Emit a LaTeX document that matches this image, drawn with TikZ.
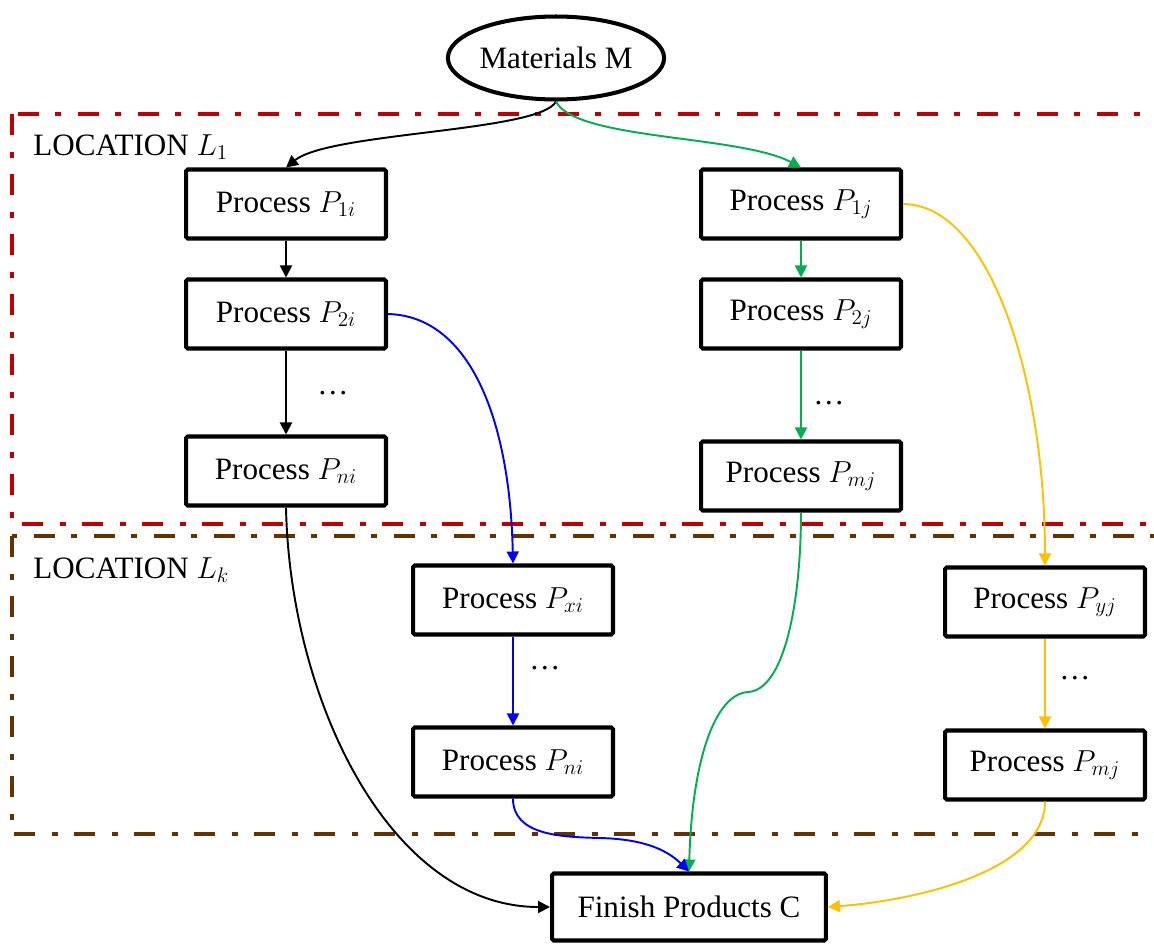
\documentclass[tikz,border=0pt]{standalone}
\usepackage{fontspec}
\setmainfont{Liberation Serif}
\usetikzlibrary{arrows.meta,shapes.geometric}
\definecolor{frred}{HTML}{C00000}
\definecolor{frbrown}{HTML}{663300}
\definecolor{cgreen}{HTML}{00B050}
\definecolor{cblue}{HTML}{0000FF}
\definecolor{corange}{HTML}{FFC000}
\tikzset{
  proc/.style={draw, line width=2.3pt, rounded corners=1pt, minimum width=4cm, minimum height=1.38cm, inner sep=0pt},
  conn/.style={line width=1.1pt, -{Triangle[length=0.24cm,width=0.24cm]}},
  frame/.style={line width=2.8pt, dash pattern=on 0.42cm off 0.34cm on 0.12cm off 0.32cm},
  lbl/.style={anchor=west, inner sep=0pt},
  dotsl/.style={inner sep=0pt}
}
\begin{document}
\begin{tikzpicture}[x=0.02cm,y=-0.02cm,font=\fontsize{17.7}{21}\selectfont]
\useasboundingbox (0,0) rectangle (1154,947);
\clip (0,0) rectangle (1154,947);
% frames
\draw[frame, frred] (12,114) rectangle (1175,524);
\draw[frame, frbrown] (12,536) rectangle (1175,834);
\node[lbl] (l1) at (33,147) {LOCATION $L_1$};
\node[lbl] (lk) at (33,570) {LOCATION $L_k$};
% nodes
\node[draw, ellipse, line width=2.3pt, minimum width=4.32cm, minimum height=1.66cm, inner sep=0pt] (M) at (556,58) {Materials M};
\node[proc] (p1i) at (286,204) {Process $P_{1i}$};
\node[proc] (p2i) at (286,314) {Process $P_{2i}$};
\node[proc] (pni) at (286,471) {Process $P_{ni}$};
\node[proc] (p1j) at (801,204) {Process $P_{1j}$};
\node[proc] (p2j) at (801,314) {Process $P_{2j}$};
\node[proc] (pmj) at (801,476) {Process $P_{mj}$};
\node[proc] (pxi) at (513,600) {Process $P_{xi}$};
\node[proc] (pni2) at (513,762) {Process $P_{ni}$};
\node[proc] (pyj) at (1045,602) {Process $P_{yj}$};
\node[proc] (pmj2) at (1045,765) {Process $P_{mj}$};
\node[draw, line width=2.3pt, rounded corners=1pt, minimum width=5.48cm, minimum height=1.34cm, inner sep=0pt] (C) at (689,907) {Finish Products C};
% dots
\node[dotsl] (d1) at (333,393) {\ldots};
\node[dotsl] (d2) at (829,403) {\ldots};
\node[dotsl] (d3) at (545,668) {\ldots};
\node[dotsl] (d4) at (1075,678) {\ldots};
% black
\draw[conn, black] (M.south) .. controls (540,132) and (330,132) .. (p1i.north);
\draw[conn, black] (p1i) -- (p2i);
\draw[conn, black] (p2i) -- (pni);
\draw[conn, black] (pni.south) .. controls (290,700) and (390,907) .. (C.west);
% green
\draw[conn, cgreen] (M.south) .. controls (575,140) and (740,135) .. (p1j.north);
\draw[conn, cgreen] (p1j) -- (p2j);
\draw[conn, cgreen] (p2j) -- (pmj);
\draw[conn, cgreen] (pmj.south) .. controls (801,600) and (785,690) .. (748,692) .. controls (715,694) and (692,760) .. (C.north);
% blue
\draw[conn, cblue] (p2i.east) .. controls (470,316) and (510,420) .. (pxi.north);
\draw[conn, cblue] (pxi) -- (pni2);
\draw[conn, cblue] (pni2.south) .. controls (513,835) and (560,837) .. (600,838) .. controls (640,839) and (665,848) .. (C.north);
% orange
\draw[conn, corange] (p1j.east) .. controls (990,204) and (1045,380) .. (pyj.north);
\draw[conn, corange] (pyj) -- (pmj2);
\draw[conn, corange] (pmj2.south) .. controls (1045,870) and (920,900) .. (C.east);
\end{tikzpicture}
\end{document}
